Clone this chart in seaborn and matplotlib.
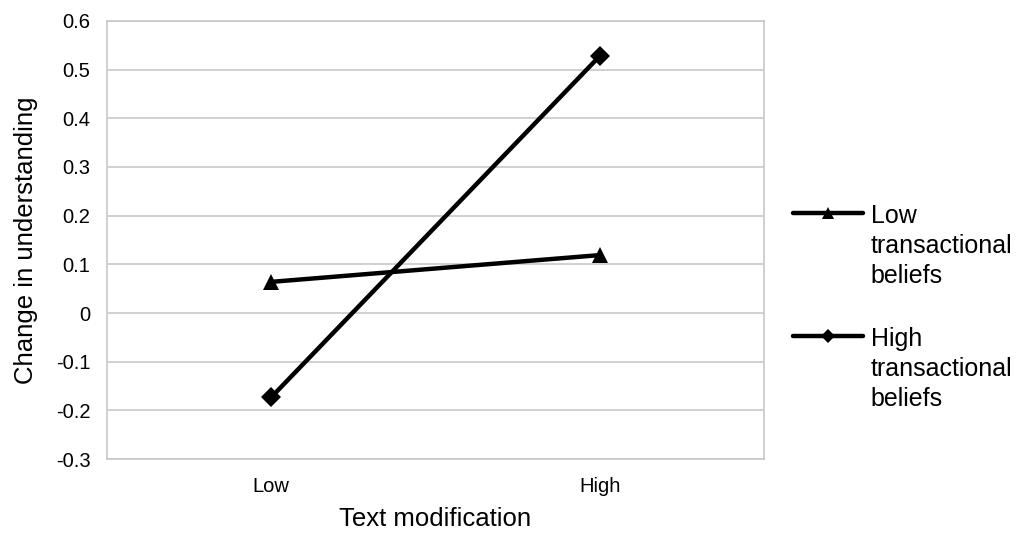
import pandas as pd
import seaborn as sns
import matplotlib.pyplot as plt
from matplotlib.offsetbox import HPacker

# values
modification = ['Low', 'High']
low_beliefs = [0.064, 0.119]
high_beliefs = [-0.173, 0.528]
series_names = ['Low\ntransactional\nbeliefs', 'High\ntransactional\nbeliefs']
y_ticks = [-0.3, -0.2, -0.1, 0, 0.1, 0.2, 0.3, 0.4, 0.5, 0.6]

df = pd.DataFrame({
    'Text modification': modification * 2,
    'Change in understanding': low_beliefs + high_beliefs,
    'Beliefs': [series_names[0]] * 2 + [series_names[1]] * 2,
})

sns.set_style('white')
plt.rcParams['font.family'] = ['Liberation Sans', 'DejaVu Sans']
plt.rcParams['text.color'] = 'black'
plt.rcParams['axes.labelcolor'] = 'black'

grid_color = '#c8c8c8'

fig = plt.figure(figsize=(10.25, 5.34), dpi=100)
ax = fig.add_axes([0.1044, 0.1404, 0.641, 0.8203])

sns.lineplot(data=df, x='Text modification', y='Change in understanding',
             hue='Beliefs', style='Beliefs', markers=['^', 'D'], dashes=False,
             palette=['black', 'black'], sort=False, linewidth=3.2,
             markersize=10, markeredgewidth=0, ax=ax)
# triangles a bit bigger than diamonds
ax.lines[0].set_markersize(12)

ax.set_xlim(-0.5, 1.5)
ax.set_ylim(-0.3, 0.6)
ax.set_yticks(y_ticks)
ax.set_yticklabels(['0' if v == 0 else f'{v:g}' for v in y_ticks])
ax.yaxis.grid(True, color=grid_color, linewidth=1.2)
ax.set_axisbelow(True)
for s in ax.spines.values():
    s.set_color(grid_color)
    s.set_linewidth(1.2)
ax.tick_params(axis='both', length=0, labelsize=14.5, colors='black')
ax.tick_params(axis='y', pad=12)
ax.tick_params(axis='x', pad=13)
ax.set_xlabel('Text modification', fontsize=18.5, labelpad=8)
ax.set_ylabel('Change in understanding', fontsize=18.5, labelpad=13)

handles, labels = ax.get_legend_handles_labels()
ax.get_legend().remove()
handles[0].set_markersize(9)
handles[1].set_markersize(7.5)
leg = fig.legend(handles, labels, loc='center left', bbox_to_anchor=(0.774, 0.424),
                 frameon=False, fontsize=18, handlelength=2.8, handletextpad=0.3,
                 labelspacing=1.55, borderpad=0, borderaxespad=0)
for t in leg.get_texts():
    t.set_linespacing(1.32)
for hp in leg.findobj(HPacker):
    hp.align = 'top'

fig.savefig('out.png', dpi=100)
